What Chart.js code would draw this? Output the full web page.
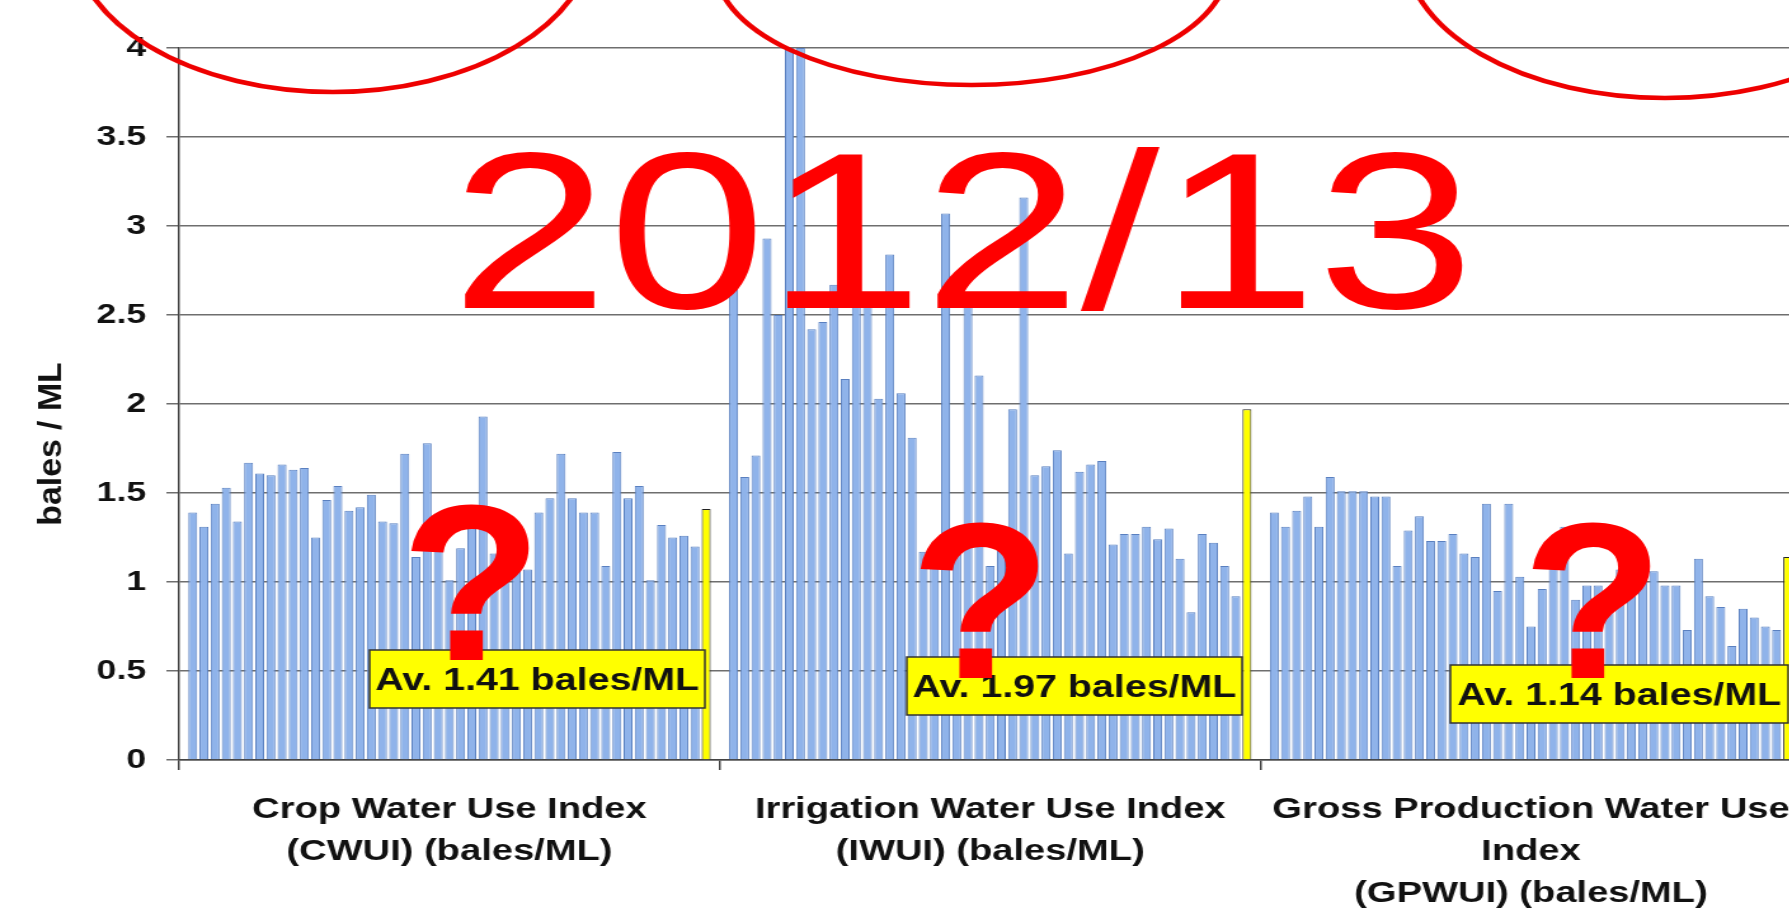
<!DOCTYPE html>
<html>
<head>
<meta charset="utf-8">
<title>Water use indices 2012/13</title>
<script src="https://cdn.jsdelivr.net/npm/chart.js@4.4.1/dist/chart.umd.min.js"></script>
<style>
    html, body { margin: 0; padding: 0; background: #fff; overflow: hidden; }
    /* the source picture is stretched sideways, so the whole chart is too */
    #wrap { position: absolute; left: 0; top: 0; width: 1430px; height: 909px; transform: scaleX(1.27); transform-origin: 0 0; }
</style>
</head>
<body>
<div id="wrap"><canvas id="chart"></canvas></div>
<script>
const categories = [
    ['Crop Water Use Index', '(CWUI) (bales/ML)'],
    ['Irrigation Water Use Index', '(IWUI) (bales/ML)'],
    ['Gross Production Water Use', 'Index', '(GPWUI) (bales/ML)'],
];

// one value per farm
const cwui = [
    1.39, 1.31, 1.44, 1.53, 1.34, 1.67, 1.61, 1.60, 1.66, 1.63,
    1.64, 1.25, 1.46, 1.54, 1.40, 1.42, 1.49, 1.34, 1.33, 1.72,
    1.14, 1.78, 1.29, 1.01, 1.19, 1.40, 1.93, 1.16, 1.29, 1.20,
    1.07, 1.39, 1.47, 1.72, 1.47, 1.39, 1.39, 1.09, 1.73, 1.47,
    1.54, 1.01, 1.32, 1.25, 1.26, 1.20,
];
const iwui = [
    2.68, 1.59, 1.71, 2.93, 2.50, 4.00, 4.00, 2.42, 2.46, 2.67,
    2.14, 2.58, 2.58, 2.03, 2.84, 2.06, 1.81, 1.17, 1.17, 3.07,
    1.27, 2.55, 2.16, 1.09, 1.30, 1.97, 3.16, 1.60, 1.65, 1.74,
    1.16, 1.62, 1.66, 1.68, 1.21, 1.27, 1.27, 1.31, 1.24, 1.30,
    1.13, 0.83, 1.27, 1.22, 1.09, 0.92,
];
const gpwui = [
    1.39, 1.31, 1.40, 1.48, 1.31, 1.59, 1.51, 1.51, 1.51, 1.48,
    1.48, 1.09, 1.29, 1.37, 1.23, 1.23, 1.27, 1.16, 1.14, 1.44,
    0.95, 1.44, 1.03, 0.75, 0.96, 1.13, 1.31, 0.90, 0.98, 0.98,
    0.95, 1.07, 1.14, 1.07, 1.06, 0.98, 0.98, 0.73, 1.13, 0.92,
    0.86, 0.64, 0.85, 0.80, 0.75, 0.73,
];
const averages = [1.41, 1.97, 1.14];
const averageLabels = ['Av. 1.41 bales/ML', 'Av. 1.97 bales/ML', 'Av. 1.14 bales/ML'];
const yearLabel = '2012/13';
const yTitle = 'bales / ML';

{
    const font = '"Liberation Sans", Arial, sans-serif';

    const datasets = cwui.map((v, i) => ({
        data: [cwui[i], iwui[i], gpwui[i]],
        backgroundColor: '#8fb3ea',
        borderColor: '#5a80c0',
        borderWidth: 1,
    }));
    datasets.push({
        data: averages,
        backgroundColor: '#ffff00',
        borderColor: '#222222',
        borderWidth: 1,
    });
    // the yellow bar is the group average

    const boxes = [
        { x: 291, y: 650, w: 264, h: 58 },
        { x: 714, y: 657, w: 264, h: 58 },
        { x: 1142, y: 665, w: 266, h: 58 },
    ];
    const marks = [
        { x: 371, y: 660 },
        { x: 772, y: 678 },
        { x: 1254, y: 678 },
    ];
    const rings = [
        { cx: 262, cy: -65, rx: 205, ry: 157 },
        { cx: 765, cy: -35, rx: 202, ry: 120 },
        { cx: 1311, cy: -52, rx: 205, ry: 150 },
    ];

    const overlay = {
        id: 'overlay',
        afterDraw(chart) {
            const c = chart.ctx;
            const area = chart.chartArea;
            c.save();
            // axis title, a bit lower than the middle like the source
            c.save();
            c.translate(41, (area.top + area.bottom) / 2 + 40);
            c.rotate(-Math.PI / 2);
            c.scale(1.3, 1);
            c.fillStyle = '#111';
            c.font = `bold 26px ${font}`;
            c.textAlign = 'center';
            c.textBaseline = 'middle';
            c.fillText(yTitle, 0, 0);
            c.restore();
            // yellow average boxes
            c.textAlign = 'center';
            c.textBaseline = 'alphabetic';
            boxes.forEach((b, i) => {
                c.fillStyle = '#ffff00';
                c.fillRect(b.x, b.y, b.w, b.h);
                c.lineWidth = 1.5;
                c.strokeStyle = '#333';
                c.strokeRect(b.x, b.y, b.w, b.h);
                c.fillStyle = '#111';
                c.font = `bold 31px ${font}`;
                c.fillText(averageLabels[i], b.x + b.w / 2, b.y + 40);
            });
            // question marks, a little narrower than the font gives
            c.fillStyle = '#ff0000';
            c.font = `bold 222px ${font}`;
            marks.forEach(m => {
                c.save();
                c.translate(m.x, m.y);
                c.scale(0.82, 1);
                c.fillText('?', 0, 0);
                c.restore();
            });
            // big year
            c.font = `223px ${font}`;
            c.fillText(yearLabel, 758, 308);
            // red rings at the top
            c.strokeStyle = '#ee0000';
            c.lineWidth = 4.5;
            rings.forEach(r => {
                c.beginPath();
                c.ellipse(r.cx, r.cy, r.rx, r.ry, 0, 0, Math.PI * 2);
                c.stroke();
            });
            c.restore();
        },
    };

    new Chart(document.getElementById('chart'), {
        type: 'bar',
        data: { labels: categories, datasets },
        options: {
            animation: false,
            responsive: true,
            maintainAspectRatio: false,
            layout: { padding: { left: 0, top: 48, right: 11, bottom: 0 } },
            plugins: {
                legend: { display: false },
                tooltip: { enabled: false },
            },
            datasets: {
                bar: { categoryPercentage: 0.97, barPercentage: 0.8 },
            },
            scales: {
                x: {
                    afterFit: (scale) => { scale.height = 149; },
                    grid: { display: true, drawOnChartArea: false, drawTicks: true, tickLength: 10, color: '#444', lineWidth: 1.5 },
                    border: { display: true, color: '#444', width: 1.5 },
                    ticks: {
                        autoSkip: false,
                        maxRotation: 0,
                        padding: 19,
                        color: '#111',
                        font: { family: font, size: 30, weight: 'bold', lineHeight: 1.4 },
                    },
                },
                y: {
                    min: 0,
                    max: 4,
                    afterFit: (scale) => { scale.width = 141; },
                    grid: { color: '#6e6e6e', lineWidth: 1.5, tickLength: 10 },
                    border: { display: true, color: '#444', width: 1.5 },
                    ticks: {
                        stepSize: 0.5,
                        padding: 16,
                        color: '#111',
                        callback: (value) => String(value),
                        // 4 not 4.0
                        font: { family: font, size: 28, weight: 'bold' },
                    },
                },
            },
        },
        plugins: [overlay],
    });
}
</script>
</body>
</html>
